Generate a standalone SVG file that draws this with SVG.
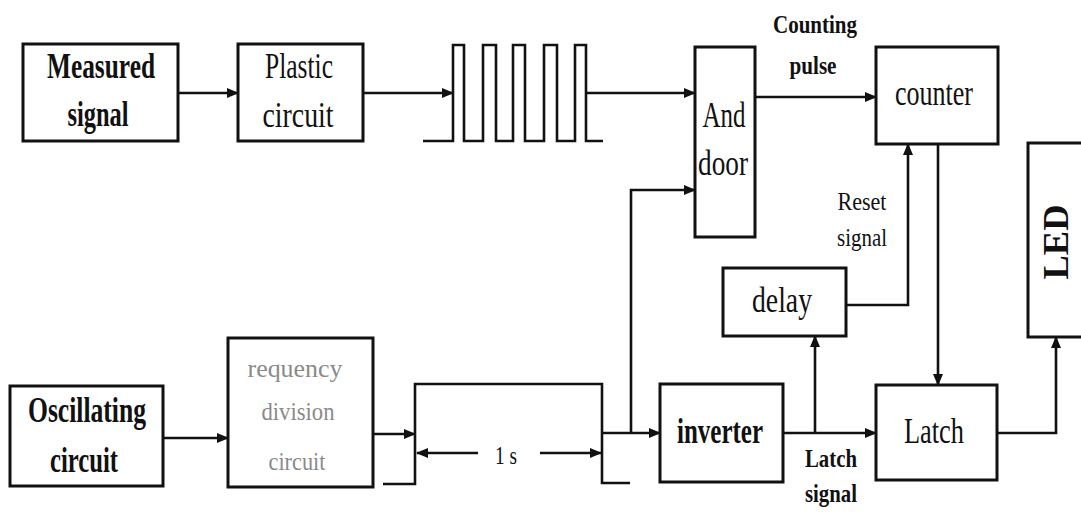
<svg xmlns="http://www.w3.org/2000/svg" width="1081" height="515" viewBox="0 0 1081 515">
<defs>
<marker id="ah" markerWidth="12" markerHeight="10" refX="11" refY="5" orient="auto" markerUnits="userSpaceOnUse">
<path d="M0,0 L12,5 L0,10 Z" fill="#111"/>
</marker>
<style>
.box{fill:#fff;stroke:#111;stroke-width:3}
.ln{fill:none;stroke:#111;stroke-width:2.6}
.t{font-family:"Liberation Serif","Times New Roman",serif;font-size:36px;fill:#111;text-anchor:middle}
.s{font-size:26px}
.g{fill:#8a8a8a}
</style>
</defs>
<rect width="1081" height="515" fill="#fff"/>

<g id="connectors">
<path class="ln" d="M178,93 H238" marker-end="url(#ah)"/>
<path class="ln" d="M363,93 H453" marker-end="url(#ah)"/>
<path class="ln" d="M586,93 H695" marker-end="url(#ah)"/>
<path class="ln" d="M755,97 H876" marker-end="url(#ah)"/>
<path class="ln" d="M846,305 H908 V144" marker-end="url(#ah)"/>
<path class="ln" d="M938,144 V385" marker-end="url(#ah)"/>
<path class="ln" d="M783,433 H876" marker-end="url(#ah)"/>
<path class="ln" d="M815,433 V336" marker-end="url(#ah)"/>
<path class="ln" d="M997,433 H1056 V337" marker-end="url(#ah)"/>
<path class="ln" d="M163,438 H228" marker-end="url(#ah)"/>
<path class="ln" d="M373,434 H415" marker-end="url(#ah)"/>
<path class="ln" d="M602,433 H660" marker-end="url(#ah)"/>
<path class="ln" d="M631,433 V190 H695" marker-end="url(#ah)"/>
<path class="ln" d="M478,453 H417" marker-end="url(#ah)"/>
<path class="ln" d="M540,453 H601" marker-end="url(#ah)"/>
</g>

<g id="pulse-train">
<path class="ln" d="M423,141 H453 V45 H464 V141 H483 V45 H496 V141 H513 V45 H525 V141 H544 V45 H557 V141 H575 V45 H586 V141 H603"/>
</g>
<g id="gate-pulse">
<path class="ln" d="M383,484 H415 V384 H602 V483 H630"/>
<text class="t s" x="506" y="464" textLength="22" lengthAdjust="spacingAndGlyphs">1 s</text>
</g>

<g id="measured">
<rect class="box" x="23" y="44" width="155" height="97"/>
<text class="t" x="101" y="78" textLength="108" lengthAdjust="spacingAndGlyphs" font-weight="bold">Measured</text>
<text class="t" x="98" y="126" textLength="61" lengthAdjust="spacingAndGlyphs" font-weight="bold">signal</text>
</g>
<g id="plastic">
<rect class="box" x="238" y="44" width="125" height="97"/>
<text class="t" x="299" y="78" textLength="68" lengthAdjust="spacingAndGlyphs">Plastic</text>
<text class="t" x="298" y="127" textLength="71" lengthAdjust="spacingAndGlyphs">circuit</text>
</g>
<g id="and-door">
<rect class="box" x="695" y="47" width="60" height="190"/>
<text class="t" x="724" y="127" textLength="43" lengthAdjust="spacingAndGlyphs">And</text>
<text class="t" x="723" y="175" textLength="50" lengthAdjust="spacingAndGlyphs">door</text>
</g>
<g id="counting-label">
<text class="t s" x="815" y="33" textLength="84" lengthAdjust="spacingAndGlyphs" font-weight="bold">Counting</text>
<text class="t s" x="813" y="74" textLength="47" lengthAdjust="spacingAndGlyphs" font-weight="bold">pulse</text>
</g>
<g id="counter">
<rect class="box" x="876" y="47" width="122" height="97"/>
<text class="t" x="934" y="105" textLength="78" lengthAdjust="spacingAndGlyphs">counter</text>
</g>
<g id="reset-label">
<text class="t s" x="862" y="210" textLength="49" lengthAdjust="spacingAndGlyphs">Reset</text>
<text class="t s" x="862" y="246" textLength="50" lengthAdjust="spacingAndGlyphs">signal</text>
</g>
<g id="led">
<rect class="box" x="1028" y="143" width="70" height="194"/>
<text class="t" transform="translate(1068,242) rotate(-90)" x="0" y="0" textLength="75" lengthAdjust="spacingAndGlyphs" font-weight="bold">LED</text>
</g>
<g id="delay">
<rect class="box" x="723" y="268" width="123" height="68"/>
<text class="t" x="782" y="312" textLength="60" lengthAdjust="spacingAndGlyphs">delay</text>
</g>
<g id="inverter">
<rect class="box" x="660" y="384" width="123" height="98"/>
<text class="t" x="720" y="443" textLength="86" lengthAdjust="spacingAndGlyphs" font-weight="bold">inverter</text>
</g>
<g id="latch">
<rect class="box" x="876" y="385" width="121" height="95"/>
<text class="t" x="934" y="443" textLength="60" lengthAdjust="spacingAndGlyphs">Latch</text>
</g>
<g id="latch-label">
<text class="t s" x="831" y="467" textLength="52" lengthAdjust="spacingAndGlyphs" font-weight="bold">Latch</text>
<text class="t s" x="831" y="502" textLength="52" lengthAdjust="spacingAndGlyphs" font-weight="bold">signal</text>
</g>
<g id="oscillating">
<rect class="box" x="10" y="386" width="153" height="100"/>
<text class="t" x="87" y="422" textLength="118" lengthAdjust="spacingAndGlyphs" font-weight="bold">Oscillating</text>
<text class="t" x="84" y="472" textLength="68" lengthAdjust="spacingAndGlyphs" font-weight="bold">circuit</text>
</g>
<g id="frequency-division">
<rect class="box" x="228" y="338" width="145" height="149"/>
<text class="t s g" x="295" y="377" textLength="95" lengthAdjust="spacingAndGlyphs">requency</text>
<text class="t s g" x="298" y="420" textLength="73" lengthAdjust="spacingAndGlyphs">division</text>
<text class="t s g" x="297" y="470" textLength="57" lengthAdjust="spacingAndGlyphs">circuit</text>
</g>
</svg>
